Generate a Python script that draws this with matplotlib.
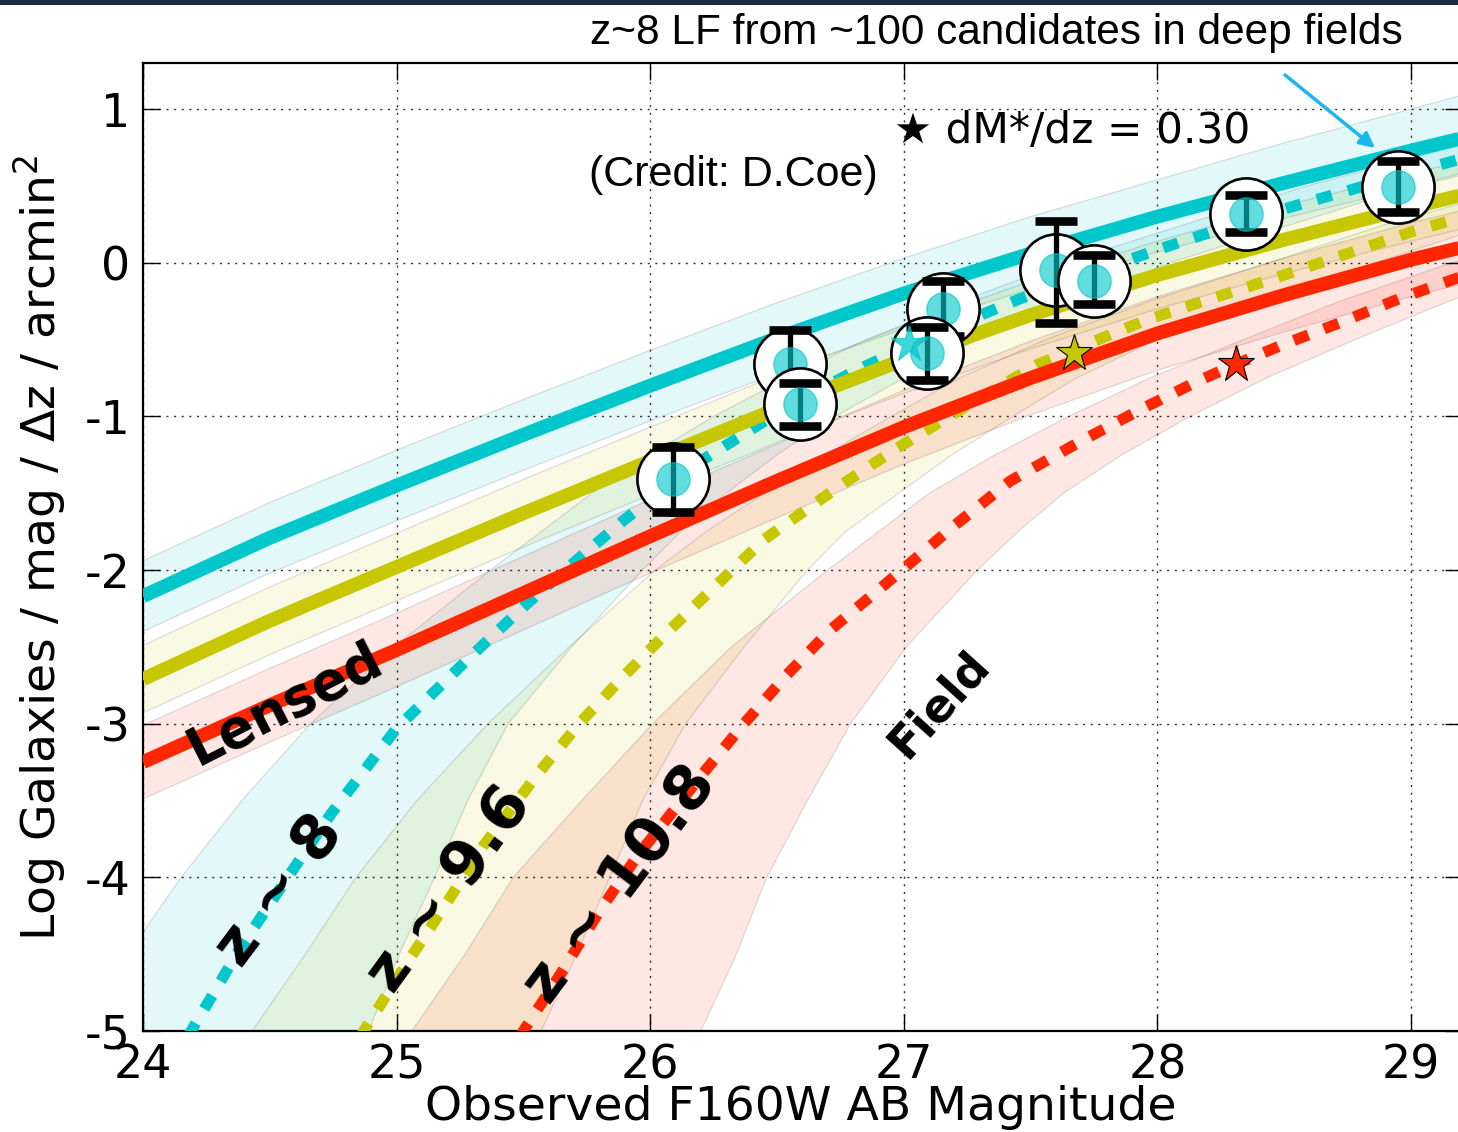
import matplotlib
matplotlib.use("Agg")
import matplotlib.pyplot as plt
from matplotlib.patches import Rectangle

# ---------------- lensed predictions (solid lines with shaded ranges) ----------------
mag_grid = [24.0, 24.5, 25.0, 25.5, 26.0, 26.5, 27.0, 27.5, 28.0, 28.5, 29.0, 29.2]

lensed_z8 = [-2.17, -1.79, -1.45, -1.12, -0.80, -0.49, -0.20, 0.06, 0.30, 0.52, 0.73, 0.81]
lensed_z8_hi = [-1.94, -1.56, -1.22, -0.89, -0.57, -0.26, 0.03, 0.30, 0.54, 0.78, 1.00, 1.09]
lensed_z8_lo = [-2.40, -2.02, -1.68, -1.35, -1.03, -0.72, -0.43, -0.17, 0.07, 0.29, 0.49, 0.57]

lensed_z96 = [-2.71, -2.33, -1.98, -1.63, -1.29, -0.95, -0.63, -0.34, -0.08, 0.15, 0.36, 0.44]
lensed_z96_hi = [-2.49, -2.11, -1.76, -1.41, -1.07, -0.73, -0.41, -0.12, 0.14, 0.37, 0.58, 0.66]
lensed_z96_lo = [-2.93, -2.55, -2.20, -1.85, -1.51, -1.17, -0.85, -0.56, -0.30, -0.07, 0.14, 0.22]

lensed_z108 = [-3.25, -2.88, -2.52, -2.15, -1.78, -1.42, -1.07, -0.75, -0.46, -0.21, 0.02, 0.10]
lensed_z108_hi = [-3.01, -2.64, -2.28, -1.91, -1.54, -1.18, -0.83, -0.51, -0.22, 0.03, 0.26, 0.34]
lensed_z108_lo = [-3.49, -3.12, -2.76, -2.39, -2.02, -1.66, -1.31, -0.99, -0.70, -0.45, -0.22, -0.14]

# ---------------- blank-field predictions (dotted lines) ----------------
field_z8_mag = [24.05, 24.19, 24.38, 24.55, 24.74, 25.0, 25.3, 25.5, 25.7, 25.9, 26.2, 26.5,
                26.8, 27.1, 27.45, 27.8, 28.1, 28.5, 28.9, 29.25]
field_z8 = [-5.40, -5.0, -4.47, -4.05, -3.59, -3.03, -2.55, -2.24, -1.95, -1.67, -1.29, -0.98,
            -0.71, -0.48, -0.24, -0.03, 0.14, 0.35, 0.54, 0.70]

field_z96_mag = [24.73, 24.87, 25.06, 25.20, 25.34, 25.56, 25.72, 25.89, 26.07, 26.26, 26.45,
                 26.75, 26.97, 27.25, 27.53, 27.96, 28.5, 29.0, 29.25]
field_z96 = [-5.40, -5.0, -4.51, -4.16, -3.80, -3.32, -3.0, -2.70, -2.40, -2.10, -1.80,
             -1.45, -1.21, -0.93, -0.66, -0.37, -0.08, 0.20, 0.32]

field_z108_mag = [25.36, 25.5, 25.65, 25.8, 25.95, 26.21, 26.37, 26.54, 26.71, 26.9, 27.0, 27.2,
                  27.42, 27.7, 27.94, 28.16, 28.31, 28.5, 28.72, 28.96, 29.25]
field_z108 = [-5.40, -5.0, -4.62, -4.22, -3.86, -3.32, -3.00, -2.68, -2.39, -2.13, -1.99, -1.71,
              -1.42, -1.16, -0.95, -0.77, -0.66, -0.53, -0.39, -0.23, -0.06]

# shaded ranges of the field curves: magnitude limits at fixed count levels
band_levels = [-5.4, -5.0, -4.5, -4.0, -3.5, -3.0, -2.5, -2.0, -1.75, -1.5, -1.25, -1.0,
               -0.75, -0.5, -0.25, 0.0, 0.25, 0.5, 0.75, 1.0]
field_z8_left = [23.60, 23.75, 23.94, 24.15, 24.39, 24.66, 24.99, 25.37, 25.57, 25.77, 26.00,
                 26.25, 26.54, 26.85, 27.23, 27.63, 28.11, 28.59, 29.16, 29.70]
field_z8_right = [24.85, 24.89, 25.01, 25.15, 25.28, 25.44, 25.69, 25.97, 26.12, 26.30, 26.50,
                  26.73, 27.00, 27.29, 27.67, 28.05, 28.53, 29.01, 29.58, 30.12]
field_z96_left = [24.28, 24.43, 24.64, 24.84, 25.08, 25.36, 25.68, 26.02, 26.22, 26.45, 26.69,
                  26.95, 27.22, 27.56, 27.97, 28.44, 28.90, 29.45, 30.00, 30.55]
field_z96_right = [25.53, 25.57, 25.71, 25.84, 25.97, 26.14, 26.37, 26.62, 26.77, 26.98, 27.19,
                   27.43, 27.68, 28.00, 28.40, 28.86, 29.32, 29.87, 30.42, 30.97]
field_z108_left = [24.91, 25.06, 25.27, 25.46, 25.73, 26.01, 26.32, 26.70, 26.90, 27.10, 27.36,
                   27.65, 27.97, 28.34, 28.72, 29.16, 29.70, 30.25, 30.80, 31.35]
field_z108_right = [26.16, 26.20, 26.34, 26.46, 26.62, 26.79, 27.01, 27.29, 27.45, 27.63, 27.86,
                    28.13, 28.43, 28.78, 29.15, 29.58, 30.12, 30.67, 31.22, 31.77]

# characteristic-magnitude markers
star_mag = [27.02, 27.67, 28.31]
star_val = [-0.53, -0.59, -0.66]

# ---------------- observed z~8 counts ----------------
obs_mag = [26.09, 26.55, 26.59, 27.155, 27.09, 27.60, 27.75, 28.35, 28.95]
obs_val = [-1.41, -0.66, -0.92, -0.30, -0.59, -0.05, -0.12, 0.32, 0.495]
obs_err_lo = [0.21, 0.25, 0.14, 0.18, 0.17, 0.34, 0.15, 0.12, 0.165]
obs_err_hi = [0.21, 0.22, 0.14, 0.18, 0.17, 0.32, 0.17, 0.12, 0.165]

x_ticks = [24, 25, 26, 27, 28, 29]
y_ticks = [-5, -4, -3, -2, -1, 0, 1]

CYAN = (0.0, 0.78, 0.80)
YELLOW = (0.78, 0.78, 0.0)
RED = (1.0, 0.15, 0.0)
BAND_EDGE = (0.0, 0.0, 0.0, 0.12)

W, H = 1458, 1132
fig = plt.figure(figsize=(W / 100, H / 100), dpi=100)
fig.patch.set_facecolor("white")
fig.patches.append(Rectangle((0, 1 - 5 / H), 1, 5 / H, transform=fig.transFigure,
                             facecolor="#1e2a45", edgecolor="none", zorder=0))

ax = fig.add_axes([143 / W, 101 / H, (1461.7 - 143) / W, (1031 - 63) / H])

# field ranges
for lo, hi, col in [(field_z8_left, field_z8_right, CYAN),
                    (field_z96_left, field_z96_right, YELLOW),
                    (field_z108_left, field_z108_right, RED)]:
    ax.fill_betweenx(band_levels, lo, hi, facecolor=col, alpha=0.11,
                     edgecolor="none", zorder=1)
    ax.plot(lo, band_levels, color=BAND_EDGE, lw=0.9, zorder=1.1)
    ax.plot(hi, band_levels, color=BAND_EDGE, lw=0.9, zorder=1.1)

# lensed ranges
for lo, hi, col in [(lensed_z8_lo, lensed_z8_hi, CYAN),
                    (lensed_z96_lo, lensed_z96_hi, YELLOW),
                    (lensed_z108_lo, lensed_z108_hi, RED)]:
    ax.fill_between(mag_grid, lo, hi, facecolor=col, alpha=0.11, edgecolor="none", zorder=1)
    ax.plot(mag_grid, lo, color=BAND_EDGE, lw=0.9, zorder=1.1)
    ax.plot(mag_grid, hi, color=BAND_EDGE, lw=0.9, zorder=1.1)

dots = (0, (1.4, 1.5))
ax.plot(field_z8_mag, field_z8, color=CYAN, lw=8, ls=dots, zorder=3)
ax.plot(field_z96_mag, field_z96, color=YELLOW, lw=8, ls=dots, zorder=3)
ax.plot(field_z108_mag, field_z108, color=RED, lw=8, ls=dots, zorder=3)

ax.plot(mag_grid, lensed_z8, color=CYAN, lw=10, solid_capstyle="butt", zorder=3.2)
ax.plot(mag_grid, lensed_z96, color=YELLOW, lw=10, solid_capstyle="butt", zorder=3.2)
ax.plot(mag_grid, lensed_z108, color=RED, lw=10, solid_capstyle="butt", zorder=3.2)

# observed points: white disc, error bar, translucent cyan dot
for i in range(len(obs_mag)):
    z0 = 5 + 0.1 * i
    ax.plot(obs_mag[i], obs_val[i], "o", ms=52, mfc="white", mec="black", mew=1.9, zorder=z0)
    ax.errorbar(obs_mag[i], obs_val[i], yerr=[[obs_err_lo[i]], [obs_err_hi[i]]], fmt="none",
                ecolor="black", elinewidth=3.8, capsize=15, capthick=6.2, zorder=z0 + 0.02)
    ax.plot(obs_mag[i], obs_val[i], "o", ms=24, mfc=CYAN, mec=CYAN, mew=1, alpha=0.62,
            zorder=z0 + 0.04)

for (m, v, col) in zip(star_mag, star_val, [CYAN, YELLOW, RED]):
    if col == CYAN:
        ax.plot(m, v, marker="*", ms=28, mfc=col, mec=col, mew=0.8, alpha=0.75, zorder=7)
    else:
        ax.plot(m, v, marker="*", ms=28, mfc=col, mec="black", mew=0.8, zorder=7)

ax.set_xlim(24, 29.2)
ax.set_ylim(-5, 1.3)
ax.set_xticks(x_ticks)
ax.set_yticks(y_ticks)
ax.set_xticklabels([str(t) for t in x_ticks])
ax.set_yticklabels([str(t) for t in y_ticks])
ax.tick_params(direction="in", length=12, width=1.0, labelsize=33, top=True, right=True)
ax.tick_params(axis="x", pad=9)
ax.tick_params(axis="y", pad=9)
for lab in ax.get_xticklabels() + ax.get_yticklabels():
    lab.set_fontfamily("DejaVu Sans")
ax.grid(True, color="black", lw=1.0, ls=(0, (1.5, 4)), alpha=0.8)
for s in ax.spines.values():
    s.set_linewidth(1.6)

bold = dict(fontfamily="DejaVu Sans", fontweight="bold", ha="center", va="center",
            rotation_mode="anchor", zorder=8)
ax.text(24.56, -2.88, "Lensed", fontsize=38, rotation=27, **bold)
ax.text(24.54, -4.09, "z ~ 8", fontsize=44, rotation=53, **bold)
ax.text(25.21, -4.08, "z ~ 9.6", fontsize=44, rotation=54, **bold)
ax.text(25.88, -4.05, "z ~ 10.8", fontsize=44, rotation=53, **bold)
ax.text(27.14, -2.87, "Field", fontsize=33, rotation=48, **bold)

ax.text(26.96, 0.86, "\u2605 dM*/dz = 0.30", fontsize=30.5, fontfamily="DejaVu Sans",
        ha="left", va="center", zorder=8)
ax.text(25.76, 0.574, "(Credit: D.Coe)", fontsize=31, fontfamily="Liberation Sans",
        ha="left", va="center", zorder=8)

fig.text(590 / W, 1 - 33 / H, "z~8 LF from ~100 candidates in deep fields", fontsize=30.5,
         fontfamily="Liberation Sans", ha="left", va="center")
fig.text(801 / W, 1 - 1108 / H, "Observed F160W AB Magnitude", fontsize=34,
         fontfamily="DejaVu Sans", ha="center", va="center")
fig.text(40 / W, 1 - 548 / H, "Log Galaxies / mag / \u0394z / arcmin$^2$", fontsize=34,
         fontfamily="DejaVu Sans", rotation=90, ha="center", va="center")

ax.annotate("", xy=(1375 / W, 1 - 148 / H), xytext=(1285 / W, 1 - 75 / H),
            xycoords="figure fraction", textcoords="figure fraction",
            arrowprops=dict(arrowstyle="-|>,head_length=0.9,head_width=0.45",
                            color="#1ab6f0", lw=2.5, shrinkA=0, shrinkB=0), zorder=9)

fig.savefig("out.png", dpi=100)
